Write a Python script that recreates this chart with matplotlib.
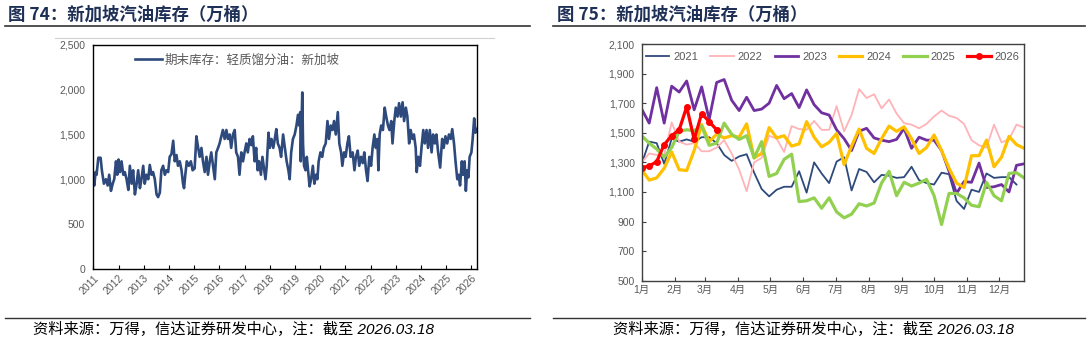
import matplotlib
matplotlib.use("Agg")
import matplotlib.pyplot as plt
from matplotlib.lines import Line2D
from matplotlib.ticker import FuncFormatter

plt.rcParams['font.family'] = ['Liberation Sans', 'Noto Sans CJK SC', 'DejaVu Sans']

# ---------------- Left chart data (decimal year, 万桶) ----------------
left_dates = [
    2011.00, 2011.04, 2011.09, 2011.13, 2011.20, 2011.29, 2011.34, 2011.42, 2011.50, 2011.57,
    2011.63, 2011.70, 2011.77, 2011.83, 2011.90, 2011.95, 2012.00, 2012.06, 2012.12, 2012.19,
    2012.25, 2012.32, 2012.39, 2012.45, 2012.52, 2012.58, 2012.65, 2012.72, 2012.78, 2012.85,
    2012.91, 2012.98, 2013.04, 2013.11, 2013.18, 2013.24, 2013.31, 2013.37, 2013.44, 2013.51,
    2013.57, 2013.64, 2013.70, 2013.77, 2013.84, 2013.90, 2013.97, 2014.03, 2014.10, 2014.17,
    2014.23, 2014.30, 2014.36, 2014.43, 2014.50, 2014.56, 2014.60, 2014.65, 2014.71, 2014.79,
    2014.87, 2014.94, 2015.02, 2015.09, 2015.16, 2015.22, 2015.29, 2015.35, 2015.42, 2015.49,
    2015.55, 2015.62, 2015.68, 2015.75, 2015.82, 2015.88, 2015.95, 2016.01, 2016.08, 2016.14,
    2016.21, 2016.28, 2016.34, 2016.41, 2016.47, 2016.54, 2016.61, 2016.67, 2016.74, 2016.80,
    2016.87, 2016.94, 2017.00, 2017.07, 2017.13, 2017.20, 2017.27, 2017.33, 2017.40, 2017.46,
    2017.52, 2017.58, 2017.65, 2017.71, 2017.78, 2017.83, 2017.88, 2017.95, 2018.00, 2018.07,
    2018.14, 2018.20, 2018.26, 2018.32, 2018.39, 2018.45, 2018.53, 2018.60, 2018.67, 2018.74,
    2018.79, 2018.85, 2018.92, 2018.99, 2019.06, 2019.12, 2019.17, 2019.21, 2019.23, 2019.29,
    2019.32, 2019.36, 2019.42, 2019.47, 2019.52, 2019.58, 2019.64, 2019.71, 2019.77, 2019.84,
    2019.89, 2019.94, 2020.01, 2020.08, 2020.14, 2020.22, 2020.29, 2020.35, 2020.42, 2020.49,
    2020.55, 2020.62, 2020.70, 2020.76, 2020.83, 2020.88, 2020.95, 2021.01, 2021.08, 2021.14,
    2021.21, 2021.29, 2021.36, 2021.42, 2021.49, 2021.55, 2021.62, 2021.69, 2021.75, 2021.82,
    2021.88, 2021.95, 2022.02, 2022.08, 2022.15, 2022.21, 2022.27, 2022.31, 2022.36, 2022.42,
    2022.49, 2022.56, 2022.62, 2022.69, 2022.75, 2022.82, 2022.87, 2022.94, 2023.00, 2023.07,
    2023.13, 2023.20, 2023.27, 2023.33, 2023.40, 2023.46, 2023.53, 2023.59, 2023.66, 2023.72,
    2023.79, 2023.83, 2023.89, 2023.96, 2024.02, 2024.09, 2024.15, 2024.22, 2024.28, 2024.35,
    2024.42, 2024.48, 2024.55, 2024.61, 2024.68, 2024.76, 2024.84, 2024.90, 2024.97, 2025.04,
    2025.11, 2025.18, 2025.24, 2025.31, 2025.37, 2025.44, 2025.49, 2025.55, 2025.62, 2025.67,
    2025.73, 2025.78, 2025.83, 2025.88, 2025.93, 2026.00, 2026.05, 2026.11, 2026.16, 2026.21,
]
left_stock = [
    1000, 930, 1080, 1050, 1240, 1240, 1100, 950, 1000, 930,
    1050, 870, 950, 1000, 1200, 1050, 1220, 1080, 1200, 1050,
    1080, 1000, 880, 1150, 950, 1100, 830, 950, 1100, 900,
    1000, 1150, 950, 1050, 1000, 1160, 1050, 1080, 1000, 830,
    800, 850, 1100, 1150, 1050, 1100, 1080, 1250, 1280, 1430,
    1200, 1270, 1150, 1200, 1100, 950, 900, 1050, 1200, 1150,
    1200, 1100, 1120, 1480, 1350, 1250, 1350, 1200, 1080, 1250,
    1050, 1200, 1300, 1150, 1000, 1300, 1350, 1400, 1480, 1550,
    1450, 1550, 1450, 1500, 1350, 1500, 1550, 1300, 1250, 1050,
    1300, 1200, 1300, 1400, 1300, 1450, 1380, 1480, 1200, 1350,
    1100, 1200, 1050, 1250, 1100, 1000, 1150, 1520, 1350, 1450,
    1350, 1450, 1560, 1400, 1350, 1250, 1500, 1350, 1200, 1100,
    1000, 1300, 1450, 1500, 1600, 1720, 1600, 1750, 1200, 1970,
    1400, 1150, 1100, 1250, 1100, 920, 1000, 1150, 950, 1050,
    1000, 1200, 1300, 1250, 1350, 1400, 1650, 1450, 1600, 1550,
    1650, 1500, 1750, 1400, 1300, 1150, 1300, 1250, 1400, 1480,
    1250, 1300, 1100, 1250, 1320, 1150, 1250, 1180, 1300, 1100,
    980, 1250, 1150, 1350, 1500, 1350, 1450, 1100, 1500, 1600,
    1550, 1800, 1700, 1600, 1550, 1650, 1400, 1650, 1800, 1700,
    1850, 1700, 1860, 1650, 1800, 1700, 1400, 1550, 1450, 1500,
    1350, 1080, 1250, 1150, 1350, 1550, 1400, 1550, 1350, 1550,
    1300, 1500, 1400, 1500, 1300, 1130, 1450, 1350, 1480, 1400,
    1500, 1450, 1560, 1400, 1200, 1000, 1050, 930, 1200, 1050,
    1200, 870, 1100, 1020, 1250, 1300, 1450, 1680, 1520, 1560,
]
left_years = list(range(2011, 2027))
left_label = "期末库存：轻质馏分油：新加坡"

# ---------------- Right chart data (weekly, 万桶) ----------------
months = ["1月", "2月", "3月", "4月", "5月", "6月", "7月", "8月", "9月", "10月", "11月", "12月"]
month_start_days = [0, 31, 59, 90, 120, 151, 181, 212, 243, 273, 304, 334]
years = ["2021", "2022", "2023", "2024", "2025", "2026"]
s2021 = [1290, 1440, 1430, 1290, 1460, 1440, 1455, 1440, 1470, 1470,
         1430, 1350, 1310, 1340, 1355, 1230, 1120, 1070, 1115, 1135,
         1135, 1240, 1095, 1300, 1225, 1160, 1305, 1335, 1110, 1255,
         1235, 1165, 1215, 1210, 1195, 1200, 1270, 1180, 1160, 1150,
         1230, 1220, 1040, 985, 1115, 1100, 1225, 1195, 1200, 1200,
         1150]
s2022 = [1300, 1360, 1350, 1350, 1570, 1440, 1420, 1430, 1375, 1375,
         1400, 1450, 1360, 1250, 1105, 1300, 1330, 1480, 1460, 1370,
         1545, 1525, 1520, 1580, 1520, 1520, 1680, 1510, 1620, 1795,
         1735, 1760, 1665, 1725, 1630, 1565, 1555, 1530, 1560, 1610,
         1650, 1615, 1600, 1560, 1450, 1415, 1400, 1555, 1435, 1455,
         1555, 1535]
s2023 = [1660, 1565, 1805, 1565, 1815, 1775, 1850, 1655, 1810, 1590,
         1840, 1860, 1720, 1650, 1740, 1650, 1660, 1700, 1820, 1730,
         1765, 1670, 1790, 1690, 1635, 1620, 1520, 1460, 1380, 1510,
         1530, 1465, 1450, 1440, 1455, 1530, 1395, 1470, 1450, 1450,
         1380, 1240, 1090, 1170, 1165, 1295, 1130, 1135, 1150, 1100,
         1280, 1290]
s2024 = [1250, 1180, 1195, 1260, 1370, 1250, 1245, 1380, 1555, 1440,
         1490, 1465, 1480, 1470, 1560, 1330, 1360, 1535, 1465, 1480,
         1410, 1425, 1575, 1470, 1405, 1435, 1495, 1285, 1410, 1525,
         1395, 1360, 1460, 1545, 1510, 1540, 1460, 1360, 1400, 1485,
         1380, 1260, 1160, 1130, 1345, 1345, 1450, 1270, 1335, 1475,
         1420, 1395]
s2025 = [1480, 1430, 1390, 1335, 1400, 1510, 1520, 1515, 1545, 1415,
         1430, 1565, 1490, 1455, 1480, 1330, 1440, 1205, 1225, 1320,
         1355, 1035, 1040, 1060, 990, 1060, 965, 925, 950, 1020,
         1005, 1025, 1160, 1240, 1075, 1165, 1140, 1160, 1185, 1075,
         880, 1090, 1090, 1060, 1010, 1000, 1165, 1075, 1040, 1225,
         1230, 1195]
s2026 = [1265, 1275, 1305, 1420, 1480, 1520, 1675, 1455, 1630, 1575, 1520]

series = [s2021, s2022, s2023, s2024, s2025, s2026]
colors = ["#2E4A7C", "#FFB3B8", "#7030A0", "#FFC000", "#92D050", "#FF0000"]
widths = [1.3, 1.3, 2.0, 2.3, 2.3, 2.3]

GRAY = "#595959"
NAVY = "#1F3057"

fig = plt.figure(figsize=(10.88, 3.42), dpi=100)
W, H = 1088.0, 342.0

def axrect(l, t, r, b):
    return [l / W, 1 - b / H, (r - l) / W, (b - t) / H]

comma = FuncFormatter(lambda v, p: f"{int(v):,}")

# ---------------- Left chart ----------------
axL = fig.add_axes(axrect(93.3, 45, 476.7, 268.7))
axL.plot(left_dates, left_stock, color="#2E4A7C", lw=1.9, label=left_label)
axL.set_xlim(2011.0, 2026.21)
axL.set_ylim(0, 2500)
axL.set_yticks(range(0, 2501, 500))
axL.yaxis.set_major_formatter(comma)
axL.set_xticks(left_years)
axL.set_xticklabels([str(y) for y in left_years], rotation=45, ha="right", va="top",
                    rotation_mode="anchor")
axL.tick_params(axis="both", direction="in", length=3, width=0.8, colors="black",
                labelcolor=GRAY, labelsize=7.5)
axL.tick_params(axis="y", length=0, pad=6)
axL.tick_params(axis="x", pad=3)
for sp in axL.spines.values():
    sp.set_color("black")
    sp.set_linewidth(1.0)
leg = axL.legend(loc="upper left", bbox_to_anchor=(0.085, 1.0), frameon=False,
                 handlelength=2.2, handletextpad=0.2, borderaxespad=0.3,
                 prop={"family": ["Noto Sans CJK SC"], "size": 9})
for t in leg.get_texts():
    t.set_color(GRAY)

# ---------------- Right chart ----------------
axR = fig.add_axes(axrect(641.7, 44, 1024, 280.7))
for name, vals, c, w in zip(years, series, colors, widths):
    days = [7 * i for i in range(len(vals))]
    if name == "2026":
        axR.plot(days, vals, color=c, lw=w, marker="o", markersize=4, label=name)
    else:
        axR.plot(days, vals, color=c, lw=w, label=name)
axR.set_xlim(0, 357)
axR.set_ylim(500, 2100)
axR.set_yticks(range(500, 2101, 200))
axR.yaxis.set_major_formatter(comma)
axR.set_xticks(month_start_days)
axR.set_xticklabels(months)
axR.tick_params(axis="both", direction="in", length=3, width=0.8, colors="#404040",
                labelcolor=GRAY, labelsize=7.5)
axR.tick_params(axis="y", pad=5)
axR.tick_params(axis="x", pad=3)
for sp in axR.spines.values():
    sp.set_color("#404040")
    sp.set_linewidth(1.0)
legR = axR.legend(loc="upper center", bbox_to_anchor=(0.5, 1.0), ncol=6, frameon=False,
                  handlelength=2.1, handletextpad=0.35, columnspacing=1.1,
                  borderaxespad=0.3, prop={"size": 8})
for t in legR.get_texts():
    t.set_color(GRAY)

# ---------------- Titles, rules, footers ----------------
cjk = ["Noto Sans CJK SC", "DejaVu Sans"]
fig.text(8 / W, 1 - 15 / H, "图 74：新加坡汽油库存（万桶）", fontsize=12.5, fontweight="bold",
         color=NAVY, va="center", ha="left", family=cjk)
fig.text(557 / W, 1 - 15 / H, "图 75：新加坡汽油库存（万桶）", fontsize=12.5, fontweight="bold",
         color=NAVY, va="center", ha="left", family=cjk)

def hline(x0, x1, y, color, lw):
    fig.add_artist(Line2D([x0 / W, x1 / W], [1 - y / H, 1 - y / H], color=color, lw=lw,
                          transform=fig.transFigure))

hline(5, 530, 26, "#333333", 1.2)
hline(553, 1085, 26, "#333333", 1.2)
hline(55, 494, 37.5, "#D0D0D0", 0.8)
hline(5, 530, 318, "#333333", 1.0)
hline(553, 1085, 318, "#333333", 1.0)

foot = "资料来源：万得，信达证券研发中心，注：截至 2026.03.18"
foot_font = ["Liberation Sans", "Noto Sans CJK SC", "DejaVu Sans"]
fig.text(33 / W, 1 - 329 / H, foot, fontsize=11, style="italic", color="black",
         va="center", ha="left", family=foot_font)
fig.text(613 / W, 1 - 329 / H, foot, fontsize=11, style="italic", color="black",
         va="center", ha="left", family=foot_font)

fig.savefig("out.png", dpi=100)
